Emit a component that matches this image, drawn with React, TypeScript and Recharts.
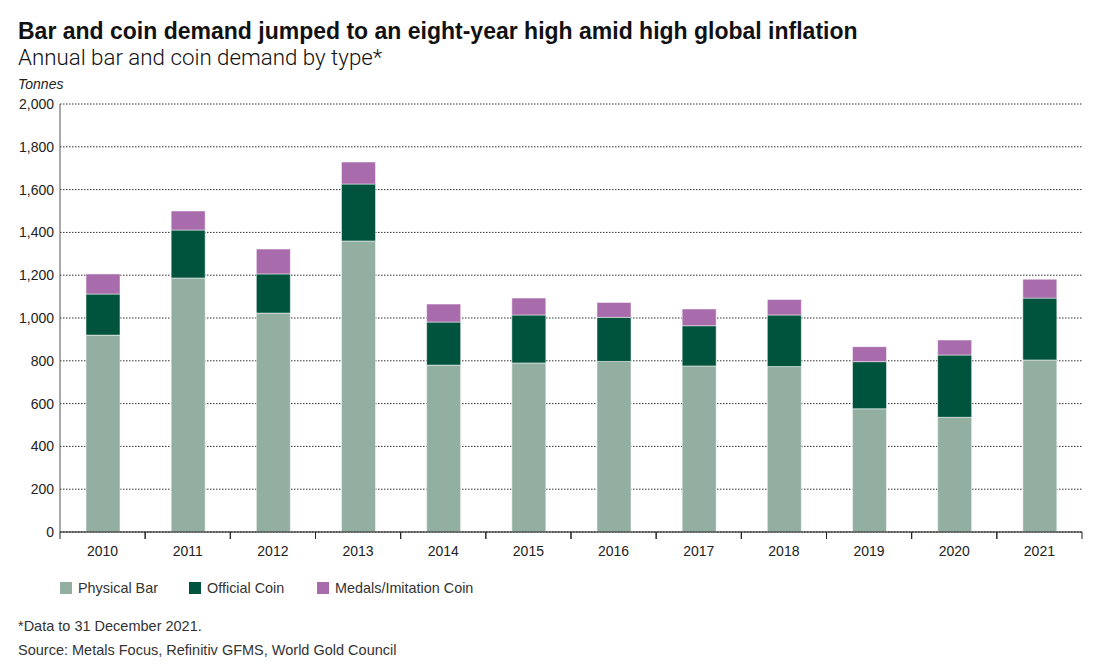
import React from 'react';
import { BarChart, Bar, XAxis, YAxis, CartesianGrid } from 'recharts';

const years = ['2010', '2011', '2012', '2013', '2014', '2015', '2016', '2017', '2018', '2019', '2020', '2021'];
const physicalBar = [920, 1187, 1023, 1360, 780, 790, 797, 776, 773, 576, 536, 804];
const officialCoin = [192, 224, 183, 266, 201, 224, 206, 188, 241, 220, 291, 289];
const medalsImitation = [94, 89, 116, 103, 84, 79, 70, 78, 73, 70, 70, 88];
const yTicks = [0, 200, 400, 600, 800, 1000, 1200, 1400, 1600, 1800, 2000];

const data = years.map((year, i) => ({
  year,
  physical: physicalBar[i],
  official: officialCoin[i],
  medals: medalsImitation[i],
}));

const COLORS = {
  physical: '#93AFA2',
  official: '#00533C',
  medals: '#A86BAB',
};

const FONT = '"Liberation Sans", Arial, Helvetica, sans-serif';

const CHART_W = 1104;
const MARGIN = { top: 104, right: 22, left: 0, bottom: 0 };
const Y_AXIS_W = 60;
const BAND = (CHART_W - MARGIN.right - MARGIN.left - Y_AXIS_W) / years.length;

const YearTick = (props: any) => {
  const { x, y, payload } = props;
  return (
    <g>
      <line x1={x - BAND / 2} x2={x - BAND / 2} y1={y} y2={y + 7} stroke="#222" />
      <line x1={x + BAND / 2} x2={x + BAND / 2} y1={y} y2={y + 7} stroke="#222" />
      <text x={x} y={y + 24} textAnchor="middle" fontSize={14} fill="#222" fontFamily={FONT}>
        {payload.value}
      </text>
    </g>
  );
};

const legendItems = [
  { label: 'Physical Bar', color: COLORS.physical, left: 60 },
  { label: 'Official Coin', color: COLORS.official, left: 189 },
  { label: 'Medals/Imitation Coin', color: COLORS.medals, left: 317 },
];

export default function App() {
  return (
    <div
      style={{
        position: 'absolute',
        left: 0,
        top: 0,
        width: 1104,
        height: 672,
        background: '#fff',
        fontFamily: FONT,
        color: '#111',
      }}
    >
      <div style={{ position: 'absolute', left: 18, top: 20, fontSize: 23, fontWeight: 700, lineHeight: 1 }}>
        Bar and coin demand jumped to an eight-year high amid high global inflation
      </div>
      <div
        style={{
          position: 'absolute',
          left: 18,
          top: 46,
          fontSize: 22.3,
          fontWeight: 300,
          lineHeight: 1,
          fontFamily: 'Roboto, "Liberation Sans", sans-serif',
        }}
      >
        Annual bar and coin demand by type*
      </div>
      <div style={{ position: 'absolute', left: 18, top: 76, fontSize: 14, fontStyle: 'italic', color: '#222' }}>
        Tonnes
      </div>

      <div style={{ position: 'absolute', left: 0, top: 0 }}>
        <BarChart width={CHART_W} height={562} data={data} margin={MARGIN} barSize={34}>
          <CartesianGrid vertical={false} stroke="#333" strokeDasharray="1.5 1.5" />
          <XAxis
            dataKey="year"
            axisLine={{ stroke: '#111', strokeWidth: 1.2 }}
            tickLine={false}
            tickSize={0}
            tickMargin={0}
            height={30}
            interval={0}
            tick={<YearTick />}
          />
          <YAxis
            width={Y_AXIS_W}
            domain={[0, 2000]}
            ticks={yTicks}
            interval={0}
            tickFormatter={(v: number) => v.toLocaleString('en-US')}
            axisLine={{ stroke: '#555' }}
            tickLine={false}
            tickSize={0}
            tickMargin={6}
            tick={{ fontSize: 14, fill: '#222', fontFamily: FONT }}
          />
          <Bar dataKey="physical" stackId="a" fill={COLORS.physical} stroke="#fff" strokeWidth={0.5} isAnimationActive={false} />
          <Bar dataKey="official" stackId="a" fill={COLORS.official} stroke="#fff" strokeWidth={0.5} isAnimationActive={false} />
          <Bar dataKey="medals" stackId="a" fill={COLORS.medals} stroke="#fff" strokeWidth={0.5} isAnimationActive={false} />
        </BarChart>
      </div>

      {legendItems.map((item) => (
        <div
          key={item.label}
          style={{ position: 'absolute', left: item.left, top: 581, display: 'flex', alignItems: 'center' }}
        >
          <div style={{ width: 12, height: 12, background: item.color, marginRight: 6 }} />
          <span style={{ fontSize: 14.4, color: '#333', lineHeight: '14px' }}>{item.label}</span>
        </div>
      ))}

      <div style={{ position: 'absolute', left: 18, top: 618, fontSize: 14.5, color: '#333' }}>
        *Data to 31 December 2021.
      </div>
      <div style={{ position: 'absolute', left: 18, top: 642, fontSize: 14.5, color: '#333' }}>
        Source: Metals Focus, Refinitiv GFMS, World Gold Council
      </div>
    </div>
  );
}
